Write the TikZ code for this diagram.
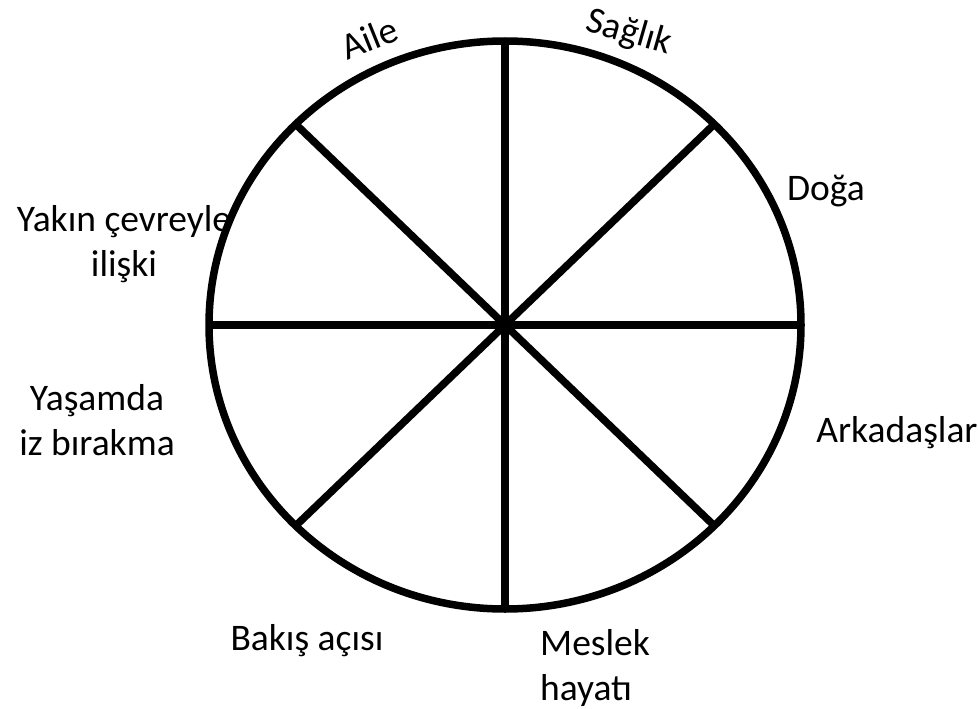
\documentclass[tikz,border=0pt]{standalone}
\usepackage{fontspec}
\setmainfont{Carlito}
\usepackage{tikz}

\begin{document}
\begin{tikzpicture}[x=1pt,y=-1pt]
\tikzstyle{rim}=[line width=7.5pt]
\tikzstyle{spoke}=[line width=7.5pt]
\tikzstyle{lbl}=[inner sep=0pt,font=\fontsize{37.5}{45}\selectfont,align=center]
\useasboundingbox (0,0) rectangle (978,709);
\coordinate (c) at (505,325);
% labels
\node[lbl,rotate=22] (aile) at (369,38) {Aile};
\node[lbl,rotate=-16] (saglik) at (629,33) {Sağlık};
\node[lbl,anchor=base] (doga) at (826,200) {Doğa};
\node[lbl,anchor=base] (arkadas) at (897,442) {Arkadaşlar};
\node[lbl,anchor=west,align=left] (meslek) at (540,668) {Meslek\\hayatı};
\node[lbl,anchor=base] (bakis) at (307,650) {Bakış açısı};
\node[lbl] (yasam) at (97,420) {Yaşamda\\iz bırakma};
\node[lbl] (yakin) at (124,244) {Yakın çevreyle\\ilişki};
% wheel
\draw[rim] (c) ellipse [x radius=296pt,y radius=284pt];
\foreach \a in {0,45,...,315}{
    \draw[spoke] (c) -- ([shift={(\a:296pt and 284pt)}]c);
}
\end{tikzpicture}
\end{document}
